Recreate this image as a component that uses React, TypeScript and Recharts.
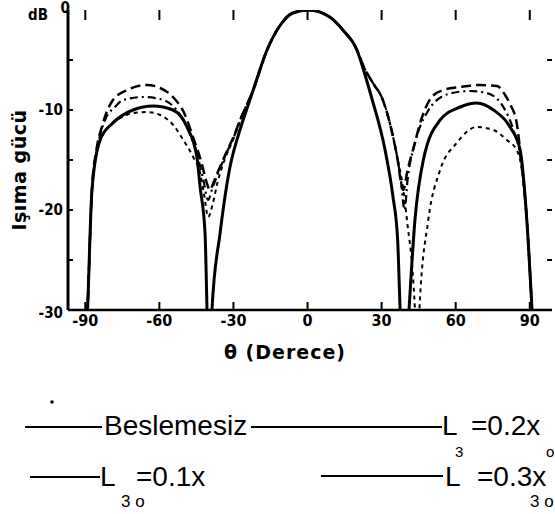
import React from "react";
import { LineChart, Line, XAxis, YAxis, ReferenceLine } from "recharts";

// ---- tick labels ----
const xTicks = [-90, -60, -30, 0, 30, 60, 90];
const yTicks = [0, -10, -20, -30];
const yMinorTicks = [-5, -10, -15, -20, -25];

// ---- series: Beslemesiz (solid) ----
const solidTheta = [-91, -89.1, -87.3, -84, -78.8, -70.7, -62.6, -54.5, -48.8, -44.8, -43.5, -41.5, -40.7, -39.7, -38.7, -35.4, -31.4, -28, -25, -22, -16.4, -11, -6, 0.5, 9, 14.3, 20, 23.3, 26, 31.4, 34.5, 36.5, 37.5, 39.3, 41.1, 43.5, 46.9, 53.7, 61.8, 68.5, 75.3, 82, 86.1, 88.8, 90.9, 92.5];
const solidDb = [-38, -30, -18, -13, -11.3, -10, -9.6, -10, -11.7, -14.7, -17.7, -22.3, -30, -38, -30, -22.3, -15.7, -12.5, -10.2, -8, -4, -1.5, -0.3, 0, -0.7, -2, -4, -6.5, -8.8, -14, -18.5, -23, -30, -38, -30, -21, -15, -11, -9.7, -9.3, -10, -11.7, -14, -21, -30, -38];

// ---- series: long dash ----
const longTheta = [-91, -89.1, -87.3, -85.5, -83.3, -78.8, -73, -65, -59.7, -54.5, -49.6, -46.4, -42.9, -40.8, -39.5, -38, -36, -33, -30, -27.3, -22, -16.4, -11, -6, 0.5, 9, 14.3, 20, 23, 27, 30, 33, 36, 38.8, 40.5, 42.7, 46, 50.3, 55, 61.8, 69, 76.7, 80, 82, 84.7, 86.1, 88.8, 90.9, 92.5];
const longDb = [-38, -30, -18, -14, -11.7, -9, -8, -7.5, -7.8, -8.7, -10.5, -12.7, -15.3, -17.3, -18, -17.2, -16, -14.3, -12.7, -11, -8, -4, -1.5, -0.3, 0, -0.7, -2, -4, -5.8, -7.5, -8.7, -11, -14.3, -18, -16, -14, -11, -8.7, -8, -7.7, -7.5, -7.6, -8.5, -9.4, -11.3, -14, -21, -30, -38];

// ---- series: dash-dot ----
const dotTheta = [-91, -89.1, -87.3, -85, -82, -78, -74.6, -66.5, -59.7, -53, -48.9, -44.9, -42.2, -40.3, -38.5, -36, -33, -30, -27.3, -22, -16.4, -11, -6, 0.5, 9, 14.3, 20, 23, 27, 30, 33, 36, 37.8, 39.3, 40.5, 43.5, 48.3, 57, 65.8, 72.6, 79.3, 83.4, 86.1, 88.8, 90.9, 92.5];
const dotDb = [-38, -30, -18, -13.7, -11, -9.7, -9, -8.7, -8.9, -10, -11.7, -14.3, -17, -19, -17.8, -16.2, -14.4, -12.8, -11, -8, -4, -1.5, -0.3, 0, -0.7, -2, -4, -5.8, -7.5, -8.7, -11, -14.3, -17, -20, -17, -13.3, -10.3, -8.4, -8.1, -8.3, -9.7, -12, -14.5, -21, -30, -38];

// ---- series: short dash ----
const shortTheta = [-91, -89.1, -87.3, -84.5, -80, -75, -70.6, -65.1, -59.7, -54.4, -50.3, -46.3, -43.5, -42, -40.2, -38.5, -36.5, -33, -30, -27.3, -22, -16.4, -11, -6, 0.5, 9, 14.3, 20, 23, 27, 30, 33, 36, 38.8, 40.5, 42.5, 43.5, 44.4, 45.3, 48.9, 53.7, 60.4, 68.5, 75.3, 80.7, 84.7, 86.1, 88.8, 90.9, 92.5];
const shortDb = [-38, -30, -18, -13.5, -11.5, -10.7, -10.3, -10.2, -10.5, -11.5, -13, -14.7, -16.3, -18.3, -20.7, -19.5, -17.3, -14.6, -12.9, -11.1, -8, -4, -1.5, -0.3, 0, -0.7, -2, -4, -5.8, -7.5, -8.7, -11, -14.3, -18, -21.5, -26, -30, -36, -30, -21, -16, -13.3, -11.7, -12, -13, -14, -15, -21, -30, -38];

// ---- legend texts ----
const legendNames = ["Beslemesiz", "L", "L", "L"];
const legendValues = ["", "=0.2x", "=0.1x", "=0.3x"];
const legendSubs = ["", "3", "3 o", "3 o"];

const zip = (t: number[], d: number[]) => t.map((x, i) => ({ theta: x, db: d[i] }));
const solidData = zip(solidTheta, solidDb);
const longData = zip(longTheta, longDb);
const dotData = zip(dotTheta, dotDb);
const shortData = zip(shortTheta, shortDb);

const scanFont = "'DejaVu Sans Condensed', 'DejaVu Sans', sans-serif";
const legendFont = "'Liberation Sans', Arial, sans-serif";
const ink = "#000";

const renderYTick = (props: any) => {
  const { x, y, payload } = props;
  const v = payload.value;
  let dx = 0;
  let dy = 0;
  if (v === 0) { dx = 7; dy = -2; }
  if (v === -30) { dy = 3; }
  return (
    <text x={x + dx} y={y + dy} textAnchor="end" dominantBaseline="central"
      fontFamily={scanFont} fontWeight="bold" fontSize={15} fill={ink}>
      {String(v)}
    </text>
  );
};

export default function App() {
  return (
    <div style={{ position: "absolute", left: 0, top: 0, width: 555, height: 514, background: "#fff" }}>
      <LineChart width={555} height={514} data={solidData}
        margin={{ top: 10, right: 3, left: 8, bottom: 174 }}>
        <XAxis dataKey="theta" type="number" domain={[-97, 99]} allowDataOverflow
          ticks={xTicks} interval={0} tickLine={false} tickSize={0} tickMargin={5} height={30}
          axisLine={{ stroke: ink, strokeWidth: 2.5 }}
          tick={{ fill: ink, fontSize: 16, fontFamily: scanFont, fontWeight: "bold" }}
          label={{ value: "θ (Derece)", position: "bottom", offset: 6, dx: -25,
            style: { fill: ink, fontSize: 19, fontFamily: "'DejaVu Sans', sans-serif", fontWeight: "bold", letterSpacing: 1 } }} />
        <XAxis xAxisId="top" orientation="top" type="number" domain={[-97, 99]} allowDataOverflow
          tick={false} tickLine={false} height={0} axisLine={{ stroke: ink, strokeWidth: 2.5 }} />
        <YAxis type="number" domain={[-30, 0]} allowDataOverflow ticks={yTicks} interval={0}
          tickLine={false} tickSize={0} tickMargin={5} width={60}
          axisLine={{ stroke: ink, strokeWidth: 3 }} tick={renderYTick} />
        <YAxis yAxisId="right" orientation="right" type="number" domain={[-30, 0]}
          tick={false} tickLine={false} width={0} axisLine={{ stroke: ink, strokeWidth: 2.5 }} />

        {xTicks.map((t) => (
          <ReferenceLine key={"tt" + t} segment={[{ x: t, y: 0 }, { x: t, y: -1 }]} stroke={ink} strokeWidth={2} />
        ))}
        {xTicks.map((t) => (
          <ReferenceLine key={"bt" + t} segment={[{ x: t, y: -30 }, { x: t, y: -29.2 }]} stroke={ink} strokeWidth={2} />
        ))}
        {yMinorTicks.map((v) => (
          <ReferenceLine key={"lt" + v} segment={[{ x: -97, y: v }, { x: -95, y: v }]} stroke={ink} strokeWidth={2} />
        ))}
        {yMinorTicks.map((v) => (
          <ReferenceLine key={"rt" + v} segment={[{ x: 99, y: v }, { x: 97, y: v }]} stroke={ink} strokeWidth={2} />
        ))}

        <Line data={shortData} dataKey="db" type="monotone" stroke={ink} strokeWidth={2}
          strokeDasharray="4 4" dot={false} isAnimationActive={false} />
        <Line data={dotData} dataKey="db" type="monotone" stroke={ink} strokeWidth={2.2}
          strokeDasharray="8 4 2 4" dot={false} isAnimationActive={false} />
        <Line data={longData} dataKey="db" type="monotone" stroke={ink} strokeWidth={2.5}
          strokeDasharray="10 5" dot={false} isAnimationActive={false} />
        <Line data={solidData} dataKey="db" type="monotone" stroke={ink} strokeWidth={3}
          dot={false} isAnimationActive={false} />
      </LineChart>

      <div style={{ position: "absolute", left: 19, top: 170, transform: "translate(-50%, -50%) rotate(-90deg)",
        whiteSpace: "nowrap", fontFamily: "'DejaVu Sans', sans-serif", fontWeight: "bold", fontSize: 19,
        letterSpacing: 0.5, color: ink, lineHeight: 1 }}>
        Işıma gücü
      </div>
      <div style={{ position: "absolute", left: 28, top: 8, whiteSpace: "nowrap", fontFamily: scanFont,
        fontWeight: "bold", fontSize: 15, color: ink, lineHeight: 1 }}>
        dB
      </div>

      <svg width={555} height={514} style={{ position: "absolute", left: 0, top: 0, pointerEvents: "none" }}>
        <g fontFamily={legendFont} fill={ink}>
          <circle cx={52} cy={402} r={1.8} />
          <line x1={25} y1={427} x2={102} y2={427} stroke={ink} strokeWidth={2} />
          <text x={104} y={435} fontSize={28}>{legendNames[0]}</text>
          <line x1={251} y1={427} x2={442} y2={427} stroke={ink} strokeWidth={2} />
          <text x={442} y={435} fontSize={28}>{legendNames[1]}</text>
          <text x={455} y={457} fontSize={15}>{legendSubs[1]}</text>
          <text x={471} y={435} fontSize={28}>{legendValues[1]}</text>
          <text x={546} y={457} fontSize={15}>o</text>

          <line x1={30} y1={477} x2={100} y2={477} stroke={ink} strokeWidth={2} />
          <text x={100} y={486} fontSize={28}>{legendNames[2]}</text>
          <text x={136} y={486} fontSize={28}>{legendValues[2]}</text>
          <text x={121} y={507} fontSize={17}>{legendSubs[2]}</text>

          <line x1={321} y1={476} x2={443} y2={476} stroke={ink} strokeWidth={2} />
          <text x={445} y={486} fontSize={28}>{legendNames[3]}</text>
          <text x={477} y={486} fontSize={28}>{legendValues[3]}</text>
          <text x={530} y={507} fontSize={17}>{legendSubs[3]}</text>
        </g>
      </svg>
    </div>
  );
}
